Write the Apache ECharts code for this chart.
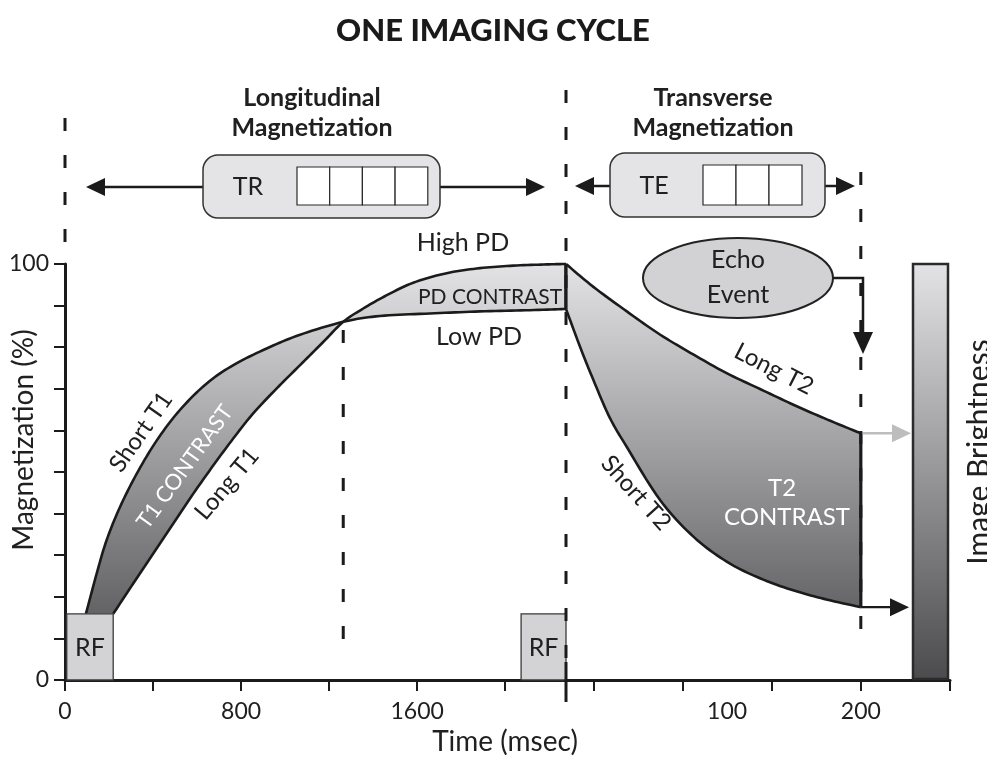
<!DOCTYPE html>
<html>
<head>
<meta charset="utf-8">
<title>One Imaging Cycle</title>
<script src="https://cdn.jsdelivr.net/npm/echarts@6/dist/echarts.min.js"></script>
<style>
  html, body { margin: 0; padding: 0; background: #ffffff; }
  #chart { width: 987px; height: 769px; }
</style>
</head>
<body>
<div id="chart"></div>
<script>
// ---- Longitudinal recovery during TR (time in ms, magnetization in %) ----
const shortT1Time = [95, 144, 189, 250, 326, 417, 522, 644, 765, 916, 1068, 1264, 1431, 1658, 1885, 2112, 2276];
const shortT1Mag  = [15.9, 25.6, 33.6, 41.6, 49.6, 57.6, 64.9, 71.3, 75.7, 79.7, 83.0, 86.1, 87.5, 88.1, 88.6, 88.9, 89.2];
const longT1Time  = [219, 310, 401, 492, 583, 674, 765, 855, 962, 1068, 1174, 1264, 1355, 1462, 1582, 1734, 1885, 2037, 2188, 2276];
const longT1Mag   = [15.9, 23.2, 30.4, 37.6, 44.8, 51.6, 58.1, 64.1, 70.1, 75.7, 81.3, 86.1, 89.3, 92.5, 95.5, 97.8, 99.0, 99.6, 99.9, 100];

// ---- Transverse decay up to the echo (time in ms, magnetization in %) ----
const longT2Time  = [-20.5, 0, 25, 50, 75, 100, 125, 150, 175, 200];
const longT2Mag   = [100, 94.5, 88.6, 83.0, 78.2, 73.7, 69.9, 66.1, 62.6, 59.3];
const shortT2Time = [-20.5, -10, 0, 12, 25, 50, 75, 100, 125, 150, 175, 200];
const shortT2Mag  = [89.2, 80.1, 72.1, 63.2, 56.0, 43.2, 34.4, 28.4, 24.4, 21.5, 19.3, 17.5];

// ---- RF pulses (start / end in ms, height in %) ----
const rfStart = [8, 2072];
const rfEnd   = [219, 2276];
const rfLevel = 15.9;

// ---- Timing ----
const trLength  = 2276;   // end of the longitudinal window
const crossTime = 1264;   // where the two T1 curves cross
const teTime    = 200;    // echo time
const t2Start   = -20.5;  // start of the transverse window

// ---- Axis ticks and labels ----
const leftTickValues   = [0, 400, 800, 1200, 1600, 2000];
const leftLabelValues  = [0, 800, 1600];
const rightTickValues  = [0, 66.7, 133.3, 200, 266.7];
const rightLabelValues = [100, 200];
const magLabelValues   = [0, 100];

const INK = '#1b1b1b';
const FONT = 'Lato';
const GRAD_STOPS = [{ offset: 0, color: '#e3e3e5' }, { offset: 1, color: '#4b4b4d' }];

function pairs(xs, ys) { return xs.map((x, i) => [x, ys[i]]); }

// Catmull-Rom sampling of pixel points for a smooth outline
function dense(pts, steps) {
  steps = steps || 10;
  const out = [pts[0]];
  for (let i = 0; i < pts.length - 1; i++) {
    const p0 = pts[i - 1] || pts[i], p1 = pts[i], p2 = pts[i + 1], p3 = pts[i + 2] || pts[i + 1];
    for (let k = 1; k <= steps; k++) {
      const t = k / steps, t2 = t * t, t3 = t2 * t;
      out.push([0, 1].map(j => 0.5 * ((2 * p1[j]) + (-p0[j] + p2[j]) * t +
        (2 * p0[j] - 5 * p1[j] + 4 * p2[j] - p3[j]) * t2 +
        (-p0[j] + 3 * p1[j] - 3 * p2[j] + p3[j]) * t3)));
    }
  }
  return out;
}

function gradient(api) {
  const top = api.coord([0, 100])[1];
  const bottom = api.coord([0, 0])[1];
  return new echarts.graphic.LinearGradient(0, top, 0, bottom, GRAD_STOPS, true);
}

// Shaded band between two curves, outlined, with a closing edge at the window end
function bandRenderer(curveA, curveB, closeTime, openTime) {
  return function (params, api) {
    const a = dense(curveA.map(p => api.coord(p)));
    const b = dense(curveB.map(p => api.coord(p)));
    const children = [
      { type: 'polygon', shape: { points: a.concat(b.slice().reverse()) }, style: { fill: gradient(api) } },
      { type: 'polyline', shape: { points: a }, style: { stroke: INK, lineWidth: 2.6, fill: null } },
      { type: 'polyline', shape: { points: b }, style: { stroke: INK, lineWidth: 2.6, fill: null } }
    ];
    const ea = curveA[curveA.length - 1], eb = curveB[curveB.length - 1];
    const pa = api.coord([closeTime, ea[1]]), pb = api.coord([closeTime, eb[1]]);
    children.push({ type: 'line', shape: { x1: pa[0], y1: pa[1], x2: pb[0], y2: pb[1] },
      style: { stroke: INK, lineWidth: 3.2 } });
    if (openTime !== undefined) {
      const s1 = api.coord([openTime, curveA[0][1]]), s2 = api.coord([openTime, curveB[0][1]]);
      children.push({ type: 'line', shape: { x1: s1[0], y1: s1[1], x2: s2[0], y2: s2[1] },
        style: { stroke: INK, lineWidth: 3.2 } });
    }
    return { type: 'group', children: children };
  };
}

// Arrowhead helper (pointing right / left / down)
function head(tipX, tipY, dir, len, half, color) {
  let pts;
  if (dir === 'right') pts = [[tipX, tipY], [tipX - len, tipY - half], [tipX - len, tipY + half]];
  else if (dir === 'left') pts = [[tipX, tipY], [tipX + len, tipY - half], [tipX + len, tipY + half]];
  else pts = [[tipX, tipY], [tipX - half, tipY - len], [tipX + half, tipY - len]];
  return { type: 'polygon', shape: { points: pts }, style: { fill: color || INK }, z: 60 };
}

function label(text, x, y, size, opts) {
  opts = opts || {};
  return {
    type: 'text', x: x, y: y, rotation: (opts.rot || 0) * Math.PI / 180, z: 80,
    style: {
      text: text, fill: opts.color || '#202020', font: (opts.weight || 'normal') + ' ' + size + 'px ' + FONT,
      textAlign: 'center', textVerticalAlign: 'middle'
    }
  };
}

// Pixel layout of the schematic annotations
const eventSpans = { 0: [118, 258], 1264: [330, 662], 2276: [90, 660] };
const teSpan = [172, 640];
const barBox = { x: 913, y: 264, w: 35, h: 415 };

const chart = echarts.init(document.getElementById('chart'));

const axisLineStyle = { lineStyle: { color: INK, width: 3 } };
const tickStyle = { length: 11, lineStyle: { color: INK, width: 2 } };
const tickLabel = { color: '#202020', fontFamily: FONT, fontSize: 23, formatter: v => String(v) };

chart.setOption({
  animation: false,
  backgroundColor: '#ffffff',
  grid: [
    { left: 65, top: 264, width: 501, height: 416 },
    { left: 566, top: 264, width: 384, height: 416 }
  ],
  xAxis: [
    {
      type: 'value', gridIndex: 0, min: 0, max: trLength,
      axisLine: axisLineStyle,
      axisTick: Object.assign({ customValues: leftTickValues }, tickStyle),
      axisLabel: Object.assign({ customValues: leftLabelValues, margin: 20 }, tickLabel),
      splitLine: { show: false }
    },
    {
      type: 'value', gridIndex: 1, min: t2Start, max: 266.7,
      axisLine: axisLineStyle,
      axisTick: Object.assign({ customValues: rightTickValues }, tickStyle),
      axisLabel: Object.assign({ customValues: rightLabelValues, margin: 20 }, tickLabel),
      splitLine: { show: false }
    }
  ],
  yAxis: [
    {
      type: 'value', gridIndex: 0, min: 0, max: 100, interval: 10,
      axisLine: { show: true, lineStyle: { color: INK, width: 3 } },
      axisTick: Object.assign({ show: true }, tickStyle),
      axisLabel: Object.assign({ customValues: magLabelValues, margin: 16 }, tickLabel),
      splitLine: { show: false }
    },
    { type: 'value', gridIndex: 1, min: 0, max: 100, show: false }
  ],
  series: [
    {
      name: 'T1 and PD contrast', type: 'custom', xAxisIndex: 0, yAxisIndex: 0, z: 2, clip: false,
      data: [0],
      renderItem: bandRenderer(pairs(shortT1Time, shortT1Mag), pairs(longT1Time, longT1Mag), trLength)
    },
    {
      name: 'T2 contrast', type: 'custom', xAxisIndex: 1, yAxisIndex: 1, z: 2, clip: false,
      data: [0],
      renderItem: function (params, api) {
        const g = bandRenderer(pairs(longT2Time, longT2Mag), pairs(shortT2Time, shortT2Mag), teTime, t2Start)(params, api);
        // arrows carrying each tissue's signal at TE to the brightness scale
        const hi = api.coord([teTime, longT2Mag[longT2Mag.length - 1]]);
        const lo = api.coord([teTime, shortT2Mag[shortT2Mag.length - 1]]);
        g.children.push(
          { type: 'line', shape: { x1: hi[0], y1: hi[1], x2: barBox.x - 20, y2: hi[1] }, style: { stroke: '#bdbdbd', lineWidth: 2.5 } },
          head(barBox.x - 2, hi[1], 'right', 19, 9, '#bdbdbd'),
          { type: 'line', shape: { x1: lo[0], y1: lo[1], x2: barBox.x - 20, y2: lo[1] }, style: { stroke: INK, lineWidth: 2.2 } },
          head(barBox.x - 4, lo[1], 'right', 19, 9, INK)
        );
        return g;
      }
    },
    {
      name: 'RF', type: 'custom', xAxisIndex: 0, yAxisIndex: 0, z: 4, clip: false,
      data: rfStart.map((s, i) => [s, rfEnd[i]]),
      renderItem: function (params, api) {
        const p1 = api.coord([api.value(0), rfLevel]);
        const p2 = api.coord([api.value(1), 0]);
        return {
          type: 'group', children: [
            { type: 'rect', shape: { x: p1[0], y: p1[1], width: p2[0] - p1[0], height: p2[1] - p1[1] },
              style: { fill: '#d3d3d5', stroke: '#3a3a3a', lineWidth: 1.3 } },
            { type: 'text', x: (p1[0] + p2[0]) / 2, y: (p1[1] + p2[1]) / 2 + 1,
              style: { text: 'RF', fill: '#202020', font: '25px ' + FONT, textAlign: 'center', textVerticalAlign: 'middle' } }
          ]
        };
      }
    },
    {
      name: 'Timing marks', type: 'custom', xAxisIndex: 0, yAxisIndex: 0, z: 5, clip: false,
      data: [0, crossTime, trLength],
      renderItem: function (params, api) {
        const t = api.value(0);
        const x = api.coord([t, 0])[0];
        const span = eventSpans[t];
        const kids = [{ type: 'line', shape: { x1: x, y1: span[0], x2: x, y2: span[1] },
          style: { stroke: INK, lineWidth: 3, lineDash: [13, 24] } }];
        if (t === trLength) {
          kids.push({ type: 'line', shape: { x1: x, y1: span[1] + 2, x2: x, y2: api.coord([t, 0])[1] + 22 },
            style: { stroke: INK, lineWidth: 3 } });
        }
        return { type: 'group', children: kids };
      }
    },
    {
      name: 'Echo time', type: 'custom', xAxisIndex: 1, yAxisIndex: 1, z: 5, clip: false,
      data: [teTime],
      renderItem: function (params, api) {
        const x = api.coord([api.value(0), 0])[0];
        return { type: 'line', shape: { x1: x, y1: teSpan[0], x2: x, y2: teSpan[1] },
          style: { stroke: INK, lineWidth: 3, lineDash: [13, 24] } };
      }
    }
  ],
  graphic: [
    label('ONE IMAGING CYCLE', 493, 31, 31, { weight: '900', color: '#1a1a1a' }),
    label('Longitudinal', 312, 98, 25, { weight: 'bold' }),
    label('Magnetization', 312, 128, 25, { weight: 'bold' }),
    label('Transverse', 713, 98, 25, { weight: 'bold' }),
    label('Magnetization', 713, 128, 25, { weight: 'bold' }),

    // TR window
    { type: 'line', shape: { x1: 100, y1: 187, x2: 203, y2: 187 }, style: { stroke: INK, lineWidth: 2.5 }, z: 50 },
    head(86, 187, 'left', 19, 9),
    { type: 'line', shape: { x1: 440, y1: 187, x2: 530, y2: 187 }, style: { stroke: INK, lineWidth: 2.5 }, z: 50 },
    head(545, 187, 'right', 19, 9),
    { type: 'rect', shape: { x: 203, y: 155, width: 237, height: 63, r: 15 }, style: { fill: '#e4e4e6', stroke: '#333', lineWidth: 1.5 }, z: 55 },
    label('TR', 248, 187, 25),
    { type: 'group', z: 60, children: [0, 1, 2, 3].map(i => ({ type: 'rect', z: 60,
      shape: { x: 297 + i * 32.7, y: 167, width: 32.7, height: 38 }, style: { fill: '#ffffff', stroke: '#2a2a2a', lineWidth: 1.2 } })) },

    // TE window
    { type: 'line', shape: { x1: 590, y1: 186, x2: 610, y2: 186 }, style: { stroke: INK, lineWidth: 2.5 }, z: 50 },
    head(575, 186, 'left', 19, 9),
    { type: 'line', shape: { x1: 825, y1: 186, x2: 840, y2: 186 }, style: { stroke: INK, lineWidth: 2.5 }, z: 50 },
    head(855, 186, 'right', 19, 9),
    { type: 'rect', shape: { x: 610, y: 153, width: 215, height: 64, r: 15 }, style: { fill: '#e4e4e6', stroke: '#333', lineWidth: 1.5 }, z: 55 },
    label('TE', 654, 186, 25),
    { type: 'group', z: 60, children: [0, 1, 2].map(i => ({ type: 'rect', z: 60,
      shape: { x: 703 + i * 33, y: 165, width: 33, height: 40 }, style: { fill: '#ffffff', stroke: '#2a2a2a', lineWidth: 1.2 } })) },

    // Echo event
    { type: 'polyline', shape: { points: [[833, 278], [863, 278], [863, 334]] }, style: { stroke: INK, lineWidth: 2.5, fill: null }, z: 50 },
    head(863, 354, 'down', 22, 10),
    { type: 'ellipse', shape: { cx: 738, cy: 278, rx: 95, ry: 40 }, style: { fill: '#d2d2d4', stroke: '#222', lineWidth: 2 }, z: 55 },
    label('Echo', 738, 260, 25),
    label('Event', 738, 295, 25),

    // Image brightness scale
    { type: 'rect', shape: { x: barBox.x, y: barBox.y, width: barBox.w, height: barBox.h },
      style: { fill: new echarts.graphic.LinearGradient(0, 0, 0, 1, GRAD_STOPS), stroke: '#2a2a2a', lineWidth: 2.5 }, z: 50 },
    label('Image Brightness', 979, 452, 30, { rot: 90 }),

    // Curve annotations
    label('Short T1', 141, 432, 24, { rot: 55 }),
    label('T1 CONTRAST', 185, 467, 22, { rot: 54, color: '#ffffff' }),
    label('Long T1', 227, 484, 24, { rot: 50 }),
    label('High PD', 463, 243, 25),
    label('PD CONTRAST', 490, 297, 21),
    label('Low PD', 479, 337, 25),
    label('Long T2', 774, 369, 24, { rot: -27 }),
    label('Short T2', 636, 493, 24, { rot: -48 }),
    label('T2', 782, 488, 24, { color: '#ffffff' }),
    label('CONTRAST', 787, 517, 24, { color: '#ffffff' }),

    // Axis titles
    label('Magnetization (%)', 24, 440, 28, { rot: 90 }),
    label('Time (msec)', 505, 742, 28)
  ]
});
</script>
</body>
</html>
